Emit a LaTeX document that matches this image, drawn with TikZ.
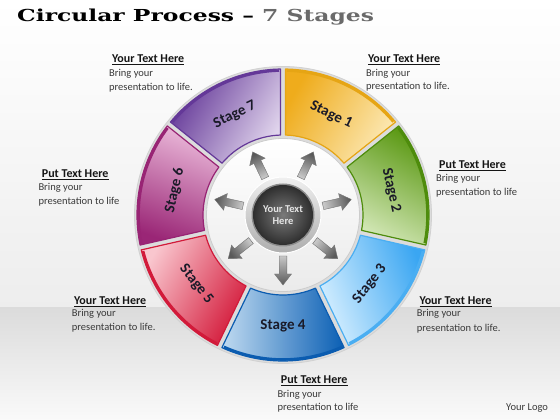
\documentclass[tikz,border=0pt]{standalone}
\usepackage{fontspec}
\setmainfont{Carlito}
\newfontfamily\titlefont{DejaVu Serif}
\usetikzlibrary{calc}
\definecolor{s1d}{HTML}{EFAC1C}\definecolor{s1l}{HTML}{FCE9B6}\definecolor{s1b}{HTML}{E6A514}
\definecolor{s2d}{HTML}{5A9812}\definecolor{s2l}{HTML}{D4E8B8}\definecolor{s2b}{HTML}{4E8C0C}
\definecolor{s3d}{HTML}{3AA6F2}\definecolor{s3l}{HTML}{D6EFFF}\definecolor{s3b}{HTML}{4AAEF2}
\definecolor{s4d}{HTML}{0A5FB4}\definecolor{s4l}{HTML}{C0DAF0}\definecolor{s4b}{HTML}{0B5CB0}
\definecolor{s5d}{HTML}{D41C3C}\definecolor{s5l}{HTML}{F9C6CE}\definecolor{s5b}{HTML}{D21A3A}
\definecolor{s6d}{HTML}{9A2676}\definecolor{s6l}{HTML}{EAB8D9}\definecolor{s6b}{HTML}{982474}
\definecolor{s7d}{HTML}{643898}\definecolor{s7l}{HTML}{E0D4EC}\definecolor{s7b}{HTML}{643898}
\definecolor{headc}{HTML}{151515}
\definecolor{bodyc}{HTML}{3A3A3A}
\definecolor{stagec}{HTML}{1A1A28}
\definecolor{titlegray}{HTML}{6A6A6A}
\definecolor{gapc}{HTML}{DCDCDC}
\tikzset{
  heading/.style={anchor=base west, inner sep=0pt, font=\bfseries\fontsize{12}{14}\selectfont, text=headc},
  bodytext/.style={anchor=base west, inner sep=0pt, font=\fontsize{10.5}{13}\selectfont, text=bodyc},
  stagelabel/.style={font=\bfseries\fontsize{15}{15}\selectfont, text=stagec, inner sep=0pt},
  arrowshape/.style={draw=black!55, line width=0.4pt},
}
\begin{document}
\begin{tikzpicture}[x=1pt,y=1pt]
\useasboundingbox (0,0) rectangle (560,420);
% background
\shade[top color=white, bottom color=black!7] (0,112) rectangle (560,420);
\shade[top color=black!14, bottom color=black!2] (0,0) rectangle (560,112);
% title
\node[anchor=base west, inner sep=0pt, font=\titlefont\bfseries\fontsize{16.5}{16.5}\selectfont] (title) at (17,398.5)
  {\scalebox{1.42}[1]{Circular Process – \textcolor{titlegray}{7 Stages}}};
% wheel
\coordinate (C) at (283,205);
\fill[gapc] (C) circle[radius=148.5];
\draw[black!18, line width=0.8pt] (C) circle[radius=148.5];
\foreach \ii/\dd/\rot in {1/150/-25.71, 2/60/-77.14, 3/20/51.43, 4/0/0, 5/-30/-51.43, 6/-110/77.14, 7/150/25.71} {
  \pgfmathsetmacro\aone{90-51.4286*\ii}
  \pgfmathsetmacro\atwo{\aone+51.4286}
  \pgfmathsetmacro\amid{\aone+25.7143}
  \pgfmathsetmacro\sa{\dd-90}
  \pgfmathsetmacro\oa{\aone+0.98}
  \pgfmathsetmacro\ob{\atwo-0.98}
  \pgfmathsetmacro\ia{\aone+1.79}
  \pgfmathsetmacro\ib{\atwo-1.79}
  \pgfmathsetmacro\ta{\aone+1.6}
  \pgfmathsetmacro\tb{\atwo-1.6}
  \shadedraw[top color=s\ii d, bottom color=s\ii l, shading angle=\sa, draw=s\ii b, line width=1.2pt, line join=round]
    ($(C)+(\oa:146)$) arc[start angle=\oa, end angle=\ob, radius=146]
    -- ($(C)+(\ib:80)$) arc[start angle=\ib, end angle=\ia, radius=80] -- cycle;
  \draw[s\ii b, line width=2.6pt] ($(C)+(\ta:144.5)$) arc[start angle=\ta, end angle=\tb, radius=144.5];
  \node[stagelabel, rotate=\rot] (st\ii) at ($(C)+(\amid:111)$) {Stage \ii};
}
% inner white disk
\shadedraw[top color=white, bottom color=black!8, draw=black!20, line width=0.8pt] (C) circle[radius=76.5];
% arrows
\foreach \ii in {1,...,7} {
  \pgfmathsetmacro\amid{90-51.4286*\ii+25.7143}
  \pgfmathsetmacro\sa{\amid-90}
  \begin{scope}[shift={(C)}, rotate=\amid]
    \shadedraw[top color=black!65, bottom color=black!22, shading angle=\sa, arrowshape]
      (41,-3.8) -- (59,-3.8) -- (59,-8.5) -- (70,0) -- (59,8.5) -- (59,3.8) -- (41,3.8) -- cycle;
  \end{scope}
}
% hub
\shadedraw[top color=black!6, bottom color=black!32, draw=white, line width=1pt] (C) circle[radius=38];
\fill[black!45] (C) circle[radius=31.5];
\node[circle, minimum size=60pt, inner sep=0pt, shading=radial, inner color=black!52, outer color=black!82,
      font=\bfseries\fontsize{10.5}{12.5}\selectfont, text=black!10, align=center] (hub) at (C) {Your Text\\Here};
% text blocks
\node[heading] (h1) at (112,357.5) {\underline{Your Text Here}};
\node[bodytext] (b1a) at (109,343.2) {Bring your};
\node[bodytext] (b1b) at (109,329.9) {presentation to life.};
\node[heading] (h2) at (368,357.2) {\underline{Your Text Here}};
\node[bodytext] (b2a) at (366,343.5) {Bring your};
\node[bodytext] (b2b) at (366,330.2) {presentation to life.};
\node[heading] (h3) at (41.7,242.2) {\underline{Put Text Here}};
\node[bodytext] (b3a) at (38.3,229.8) {Bring your};
\node[bodytext] (b3b) at (38.3,215.8) {presentation to life};
\node[heading] (h4) at (439,251.5) {\underline{Put Text Here}};
\node[bodytext] (b4a) at (436,238.2) {Bring your};
\node[bodytext] (b4b) at (436,224.4) {presentation to life};
\node[heading] (h5) at (74,115.5) {\underline{Your Text Here}};
\node[bodytext] (b5a) at (71.7,103.2) {Bring your};
\node[bodytext] (b5b) at (71.7,89.6) {presentation to life.};
\node[heading] (h6) at (419.3,115.5) {\underline{Your Text Here}};
\node[bodytext] (b6a) at (416.7,103.2) {Bring your};
\node[bodytext] (b6b) at (416.7,88.6) {presentation to life.};
\node[heading] (h7) at (280.7,36.2) {\underline{Put Text Here}};
\node[bodytext] (b7a) at (277.3,22.5) {Bring your};
\node[bodytext] (b7b) at (277.3,9.6) {presentation to life};
\node[bodytext] (logo) at (506,9.6) {Your Logo};
\end{tikzpicture}
\end{document}
